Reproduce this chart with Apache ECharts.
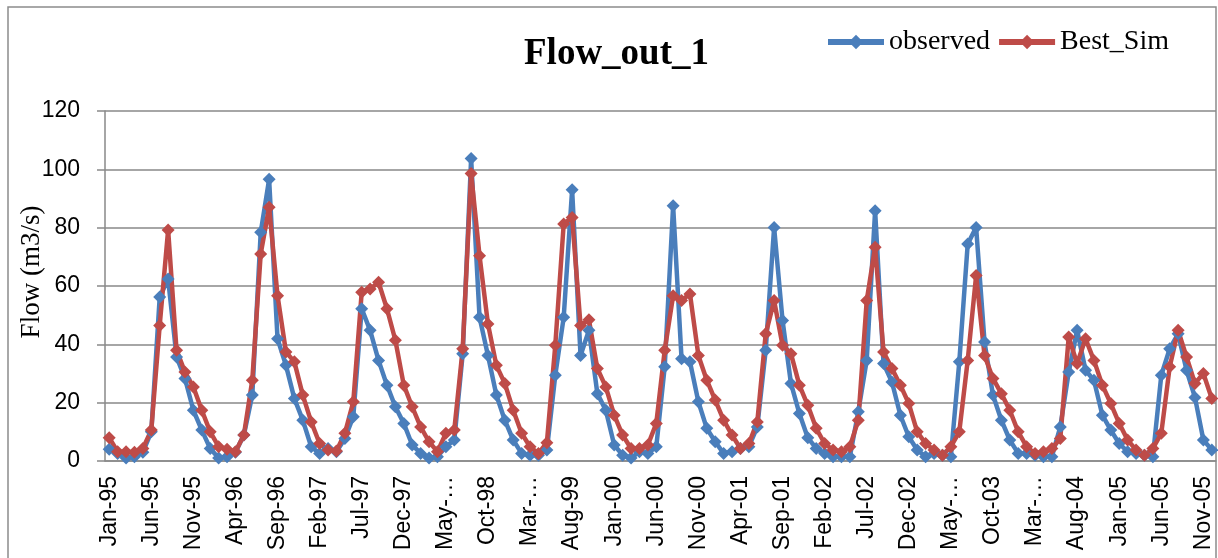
<!DOCTYPE html>
<html>
<head>
<meta charset="utf-8">
<script src="https://cdn.jsdelivr.net/npm/echarts@6/dist/echarts.min.js"></script>
<style>
html,body{margin:0;padding:0;background:#fff;}
#chart{width:1218px;height:558px;}
</style>
</head>
<body>
<div id="chart"></div>
<script>
// ---- data ----
const monthNames = ['Jan','Feb','Mar','Apr','May','Jun','Jul','Aug','Sep','Oct','Nov','Dec'];
const years = ['95','96','97','98','99','00','01','02','03','04','05'];
const categories = [];
years.forEach(y => monthNames.forEach(m => categories.push(m + '-' + y)));

const tickLabels = ['Jan-95','Jun-95','Nov-95','Apr-96','Sep-96','Feb-97','Jul-97','Dec-97','May-…','Oct-98',
  'Mar-…','Aug-99','Jan-00','Jun-00','Nov-00','Apr-01','Sep-01','Feb-02','Jul-02','Dec-02','May-…','Oct-03',
  'Mar-…','Aug-04','Jan-05','Jun-05','Nov-05'];

const observed = [
  4, 2.6, 1, 1.5, 3, 10, 56.2, 62.4, 35.7, 28.3, 17.4, 10.6,
  4.3, 1, 1.5, 3, 8.9, 22.6, 78.4, 96.6, 41.9, 32.8, 21.4, 14,
  4.9, 2.6, 4.3, 3.2, 7.7, 15.2, 52.2, 44.8, 34.5, 26, 18.6, 12.9,
  5.5, 2.6, 1, 1.5, 4.9, 7.2, 36.8, 103.7, 49.3, 36.2, 22.6, 14,
  7.2, 2.6, 2, 2, 3.8, 29.4, 49.3, 93, 36.2, 44.8, 23.1, 17.4,
  5.5, 2, 1, 3.2, 2.6, 4.9, 32.3, 87.5, 35.1, 34, 20.3, 11.2,
  6.6, 2.6, 3.2, 4.3, 4.9, 11.7, 38, 80.1, 48.2, 26.6, 16.3, 8,
  4.3, 2.6, 1.5, 1.5, 1.5, 16.9, 34.5, 85.8, 33.4, 27.1, 15.7, 8.3,
  3.8, 1.5, 2.6, 2, 1.5, 34, 74.4, 80.1, 40.8, 22.6, 14, 7.2,
  2.6, 2.6, 2, 1.5, 1.5, 11.7, 30.5, 44.8, 31.1, 27.7, 15.7, 10.6,
  6, 3.2, 2.6, 2, 1.5, 29.4, 38.5, 43.6, 31.1, 21.8, 7.2, 3.8
];

const bestSim = [
  8, 3.2, 3.2, 3, 4.3, 10.6, 46.5, 79.2, 38, 30.5, 25.4, 17.4,
  10, 4.9, 4, 3.2, 8.9, 27.7, 71, 87, 56.7, 37.4, 34, 22.6,
  13.4, 6, 3.8, 3.4, 9.5, 20.3, 57.9, 59, 61.3, 52.2, 41.4, 26,
  18.6, 11.7, 6.6, 3.2, 9.5, 10.6, 38.5, 98.6, 70.4, 47, 32.8, 26.6,
  17.4, 9.5, 4.9, 2.6, 6.3, 39.7, 81.3, 83.5, 46.5, 48.4, 31.7, 25.4,
  15.7, 8.9, 4.3, 4.3, 5.5, 12.9, 38, 56.7, 55, 57.3, 36.2, 27.7,
  20.9, 14, 8.9, 4.3, 6, 13.4, 43.6, 55, 39.7, 36.8, 26, 19.1,
  11.2, 6, 3.8, 3.2, 4.9, 14, 55, 73.3, 37.4, 31.7, 26, 19.7,
  10, 6, 3.8, 2, 4.9, 10, 34.5, 63.6, 36.2, 28.3, 23.1, 17.4,
  10, 4.9, 2.6, 3.2, 4.3, 7.7, 42.5, 33.4, 41.9, 34.5, 26, 19.7,
  12.9, 7.2, 3.8, 2, 4.3, 9.5, 32.3, 44.8, 35.7, 26.6, 30, 21.4
];

// ---- chart ----
const chart = echarts.init(document.getElementById('chart'), null, {renderer: 'canvas'});
const gray = '#898989';
chart.setOption({
  animation: false,
  backgroundColor: '#fff',
  title: {
    text: 'Flow_out_1',
    left: 519,
    top: 31,
    textStyle: {fontFamily: 'Liberation Serif', fontWeight: 'bold', fontSize: 37, color: '#000'}
  },
  legend: {
    left: 825,
    top: 28,
    padding: 0,
    itemWidth: 56,
    itemHeight: 18,
    itemGap: 6,
    lineStyle: {width: 6},
    textStyle: {fontFamily: 'Liberation Serif', fontSize: 28, color: '#000'},
    data: ['observed', 'Best_Sim']
  },
  graphic: [{
    type: 'rect', z: -10, silent: true,
    shape: {x: 8, y: 7, width: 1208, height: 600},
    style: {fill: 'none', stroke: '#8c8c8c', lineWidth: 1.5}
  }],
  grid: {left: 105, right: 2, top: 111, bottom: 97, containLabel: false, outerBoundsMode: 'none'},
  xAxis: {
    type: 'category',
    data: categories,
    boundaryGap: true,
    axisLine: {lineStyle: {color: gray, width: 1.5}},
    axisTick: {interval: 4, length: 8, lineStyle: {color: gray, width: 1.5}},
    axisLabel: {
      interval: 4,
      rotate: 90,
      margin: 15,
      fontFamily: 'Liberation Sans',
      fontSize: 23,
      color: '#000',
      formatter: (v, i) => tickLabels[Math.round(i / 5)]
    },
    splitLine: {show: false}
  },
  yAxis: {
    type: 'value',
    min: 0, max: 120, interval: 20,
    name: 'Flow (m3/s)',
    nameLocation: 'middle',
    nameGap: 60,
    nameMoveOverlap: false,
    nameTextStyle: {fontFamily: 'Liberation Serif', fontSize: 27, color: '#000', padding: [0, 0, 0, 28]},
    axisLine: {show: true, lineStyle: {color: gray, width: 1.5}},
    axisTick: {show: true, length: 8, lineStyle: {color: gray, width: 1.5}},
    axisLabel: {margin: 25, fontFamily: 'Liberation Sans', fontSize: 23, color: '#000'},
    splitLine: {lineStyle: {color: gray, width: 1.5}}
  },
  series: [
    {
      name: 'observed', type: 'line', data: observed,
      symbol: 'diamond', symbolSize: 13, showSymbol: true, showAllSymbol: true,
      itemStyle: {color: '#4A7EBB'},
      lineStyle: {color: '#4A7EBB', width: 4.5}
    },
    {
      name: 'Best_Sim', type: 'line', data: bestSim,
      symbol: 'diamond', symbolSize: 13, showSymbol: true, showAllSymbol: true,
      itemStyle: {color: '#BE4B48'},
      lineStyle: {color: '#BE4B48', width: 4.5}
    }
  ]
});
</script>
</body>
</html>
